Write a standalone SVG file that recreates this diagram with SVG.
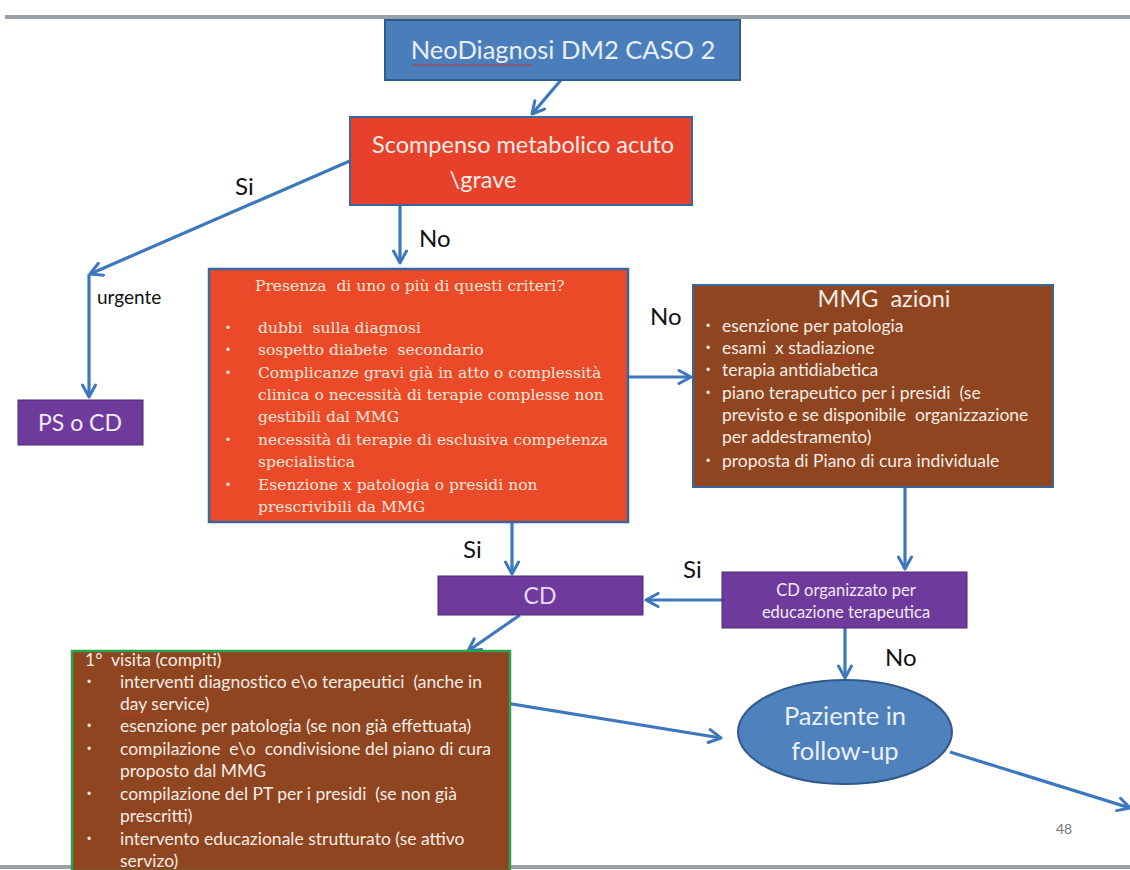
<svg xmlns="http://www.w3.org/2000/svg" width="1130" height="870" viewBox="0 0 1130 870">
<defs>
<marker id="ah2" viewBox="0 0 16 16" refX="14" refY="8" markerWidth="16" markerHeight="16" markerUnits="userSpaceOnUse" orient="auto">
<polyline points="2,1.5 14,8 2,14.5" fill="none" stroke="#3d77bd" stroke-width="3" stroke-linecap="round" stroke-linejoin="round"/>
</marker>
</defs>
<style>
text{white-space:pre}
.c{fill:none;stroke:#3d77bd;stroke-width:3.2;marker-end:url(#ah2)}
.s{font-family:Lato,"Liberation Sans",sans-serif}
.w{fill:#f6ece6}
.lbl{font-family:Lato,"Liberation Sans",Arial,sans-serif;font-size:24px;fill:#111}
.ser{font-family:"DejaVu Serif","Liberation Serif",serif;font-size:15.5px;fill:#fbe6dc}
.bul{font-family:"Liberation Sans",sans-serif;font-size:12px;fill:#f4e2d8}
</style>
<rect width="1130" height="870" fill="#ffffff"/>
<line x1="5" y1="17" x2="1130" y2="17" stroke="#9aa0a8" stroke-width="4"/>
<line x1="0" y1="867" x2="1130" y2="867" stroke="#9aa0a8" stroke-width="4"/>

<g id="connectors">
<path class="c" d="M561,80 L532,114"/>
<path class="c" d="M352,160 L90,274"/>
<path class="c" d="M89,274 L89,397"/>
<path class="c" d="M400,206 L400,263"/>
<path class="c" d="M628,377 L691,377"/>
<path class="c" d="M905,488 L905,569"/>
<path class="c" d="M722,600 L646,600"/>
<path class="c" d="M512,522 L512,574"/>
<path class="c" d="M520,615 L468,651"/>
<path class="c" d="M500,702 L721,738"/>
<path class="c" d="M845,628 L845,678"/>
<path class="c" d="M950,752 L1130,808"/>
<text class="lbl" x="235" y="195">Si</text>
<text class="s" x="97" y="304" font-size="19" fill="#111">urgente</text>
<text class="lbl" x="419" y="247">No</text>
<text class="lbl" x="650" y="325">No</text>
<text class="lbl" x="463" y="558">Si</text>
<text class="lbl" x="683" y="578">Si</text>
<text class="lbl" x="885" y="666">No</text>
</g>

<g id="n1">
<rect x="385" y="20" width="355" height="60" fill="#4a7ebb" stroke="#2f5a8e" stroke-width="2"/>
<text class="s" x="563" y="59" font-size="25.5" text-anchor="middle" fill="#e9eef7">NeoDiagnosi DM2 CASO 2</text>
<path d="M413,65 q2,-2 4,0 t4,0 t4,0 t4,0 t4,0 t4,0 t4,0 t4,0 t4,0 t4,0 t4,0 t4,0 t4,0 t4,0 t4,0 t4,0 t4,0 t4,0 t4,0 t4,0 t4,0 t4,0 t4,0 t4,0 t4,0 t4,0 t4,0 t4,0 t4,0 t4,0" fill="none" stroke="#d03030" stroke-width="1"/>
</g>

<g id="n2">
<rect x="350" y="117" width="342" height="88" fill="#e8412b" stroke="#3a66a0" stroke-width="2"/>
<text class="s w" x="523" y="153" font-size="23.5" text-anchor="middle">Scompenso metabolico acuto</text>
<text class="s w" x="483" y="188" font-size="23.5" text-anchor="middle">\grave</text>
</g>

<g id="n3">
<rect x="18" y="400" width="125" height="45" fill="#6e3a9c" stroke="#4d2a72" stroke-width="1"/>
<text class="s" x="80" y="431" font-size="23" text-anchor="middle" fill="#f2eaf6">PS o CD</text>
</g>

<g id="n4">
<rect x="209" y="269" width="419" height="253" fill="#ea4a27" stroke="#3a66a0" stroke-width="2.5"/>
<text class="ser" x="255" y="291">Presenza  di uno o più di questi criteri?</text>
<text class="bul" x="226" y="332">•</text><text class="ser" x="258" y="333">dubbi  sulla diagnosi</text>
<text class="bul" x="226" y="354">•</text><text class="ser" x="258" y="355">sospetto diabete  secondario</text>
<text class="bul" x="226" y="377">•</text><text class="ser" x="258" y="378">Complicanze gravi già in atto o complessità</text>
<text class="ser" x="258" y="400">clinica o necessità di terapie complesse non</text>
<text class="ser" x="258" y="422">gestibili dal MMG</text>
<text class="bul" x="226" y="444">•</text><text class="ser" x="258" y="445">necessità di terapie di esclusiva competenza</text>
<text class="ser" x="258" y="467">specialistica</text>
<text class="bul" x="226" y="489">•</text><text class="ser" x="258" y="490">Esenzione x patologia o presidi non</text>
<text class="ser" x="258" y="512">prescrivibili da MMG</text>
</g>

<g id="n5">
<rect x="693" y="285" width="360" height="202" fill="#8e4520" stroke="#3a66a0" stroke-width="2"/>
<text class="s w" x="884" y="307" font-size="23.5" text-anchor="middle">MMG  azioni</text>
<g class="s w" font-size="17.5">
<text class="bul" x="706" y="330">•</text><text x="722" y="332">esenzione per patologia</text>
<text class="bul" x="706" y="352">•</text><text x="722" y="354">esami  x stadiazione</text>
<text class="bul" x="706" y="374">•</text><text x="722" y="376">terapia antidiabetica</text>
<text class="bul" x="706" y="397">•</text><text x="722" y="399">piano terapeutico per i presidi  (se</text>
<text x="722" y="421">previsto e se disponibile  organizzazione</text>
<text x="722" y="443">per addestramento)</text>
<text class="bul" x="706" y="465">•</text><text x="722" y="467">proposta di Piano di cura individuale</text>
</g>
<path d="M782,358 q1.5,-1.5 3,0 t3,0 t3,0 t3,0 t3,0 t3,0 t3,0 t3,0 t3,0 t3,0 t3,0 t3,0 t3,0 t3,0 t3,0 t3,0 t3,0 t3,0 t3,0 t3,0 t3,0 t3,0 t3,0 t3,0" fill="none" stroke="#d03030" stroke-width="0.9"/>
</g>

<g id="n6">
<rect x="722" y="572" width="245" height="56" fill="#6e3a9c" stroke="#4d2a72" stroke-width="1"/>
<text class="s" x="846" y="596" font-size="16.5" text-anchor="middle" fill="#f2eaf6">CD organizzato per</text>
<text class="s" x="846" y="618" font-size="16.5" text-anchor="middle" fill="#f2eaf6">educazione terapeutica</text>
</g>

<g id="n7">
<rect x="438" y="576" width="205" height="39" fill="#6e3a9c" stroke="#4d2a72" stroke-width="1"/>
<text class="s" x="540" y="604" font-size="23" text-anchor="middle" fill="#e6d8f0">CD</text>
</g>

<g id="n8">
<rect x="72" y="651" width="438" height="220" fill="#8e4520" stroke="#27a548" stroke-width="2.5"/>
<g class="s w" font-size="17.5">
<text x="85" y="666">1°  visita (compiti)</text>
<text class="bul" x="87" y="686">•</text><text x="120" y="688">interventi diagnostico e\o terapeutici  (anche in</text>
<text x="120" y="710">day service)</text>
<text class="bul" x="87" y="730">•</text><text x="120" y="732">esenzione per patologia (se non già effettuata)</text>
<text class="bul" x="87" y="753">•</text><text x="120" y="755">compilazione  e\o  condivisione del piano di cura</text>
<text x="120" y="777">proposto dal MMG</text>
<text class="bul" x="87" y="798">•</text><text x="120" y="800">compilazione del PT per i presidi  (se non già</text>
<text x="120" y="822">prescritti)</text>
<text class="bul" x="87" y="843">•</text><text x="120" y="845">intervento educazionale strutturato (se attivo</text>
<text x="120" y="867">servizo)</text>
</g>
<path d="M120,714 q1.5,-1.5 3,0 t3,0 t3,0 t3,0 t3,0 t3,0 t3,0 t3,0 t3,0 t3,0" fill="none" stroke="#d03030" stroke-width="0.9"/>
</g>

<g id="n9">
<ellipse cx="845" cy="732" rx="107" ry="52" fill="#4f81bd" stroke="#2f5a8e" stroke-width="2"/>
<text class="s" x="845" y="725" font-size="25.5" text-anchor="middle" fill="#eaf0f8">Paziente in</text>
<text class="s" x="845" y="760" font-size="25.5" text-anchor="middle" fill="#eaf0f8">follow-up</text>
</g>

<text class="s" x="1056" y="834" font-size="14" fill="#777">48</text>
</svg>
